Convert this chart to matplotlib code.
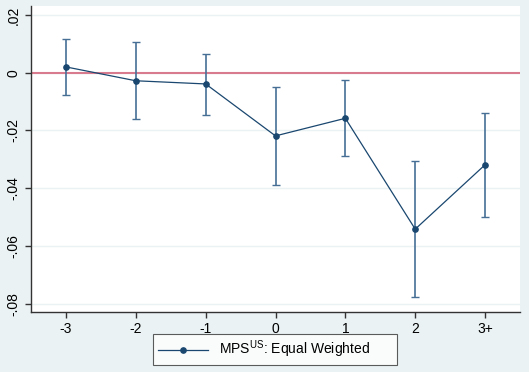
import numpy as np
import matplotlib.pyplot as plt

# event time, point estimate and 95% bands
periods = ['-3', '-2', '-1', '0', '1', '2', '3+']
coef = [0.0020, -0.0028, -0.0039, -0.0219, -0.0158, -0.0542, -0.0319]
ci_hi = [0.0118, 0.0107, 0.0066, -0.0051, -0.0024, -0.0307, -0.0139]
ci_lo = [-0.0078, -0.0162, -0.0147, -0.0388, -0.0290, -0.0777, -0.0500]
yticks = [0.02, 0, -0.02, -0.04, -0.06, -0.08]
ylabels = ['.02', '0', '-.02', '-.04', '-.06', '-.08']

plt.rcParams['font.family'] = ['Liberation Sans', 'DejaVu Sans']
plt.rcParams['mathtext.fontset'] = 'custom'
plt.rcParams['mathtext.rm'] = 'Liberation Sans'

bg = '#eaf2f3'
navy = '#1a476f'

fig = plt.figure(figsize=(5.29, 3.72), dpi=100, facecolor=bg)
ax = fig.add_axes([31/529, 1 - 312/372, (520 - 31)/529, (312 - 6)/372])
ax.set_facecolor('white')

x = np.arange(len(periods)) - 3
c = np.array(coef)
err = [c - np.array(ci_lo), np.array(ci_hi) - c]

for yt in yticks:
    ax.axhline(yt, color=bg, lw=1, zorder=0)
ax.axhline(0, color='#d97b8f', lw=1.5, zorder=1)

ax.errorbar(x, c, yerr=err, fmt='none', ecolor='#476f96', elinewidth=1.2,
            capsize=3, capthick=1, zorder=2)
ax.plot(x, c, color=navy, lw=0.9, marker='o', ms=3.8,
        label=r'MPS$^{\mathrm{US}}$: Equal Weighted', zorder=3)

ax.set_xlim(-3.5, 3.5)
ax.set_ylim(-0.0829, 0.0231)
ax.set_xticks(x)
ax.set_xticklabels(periods, fontsize=10)
ax.set_yticks(yticks)
ax.set_yticklabels(ylabels, fontsize=10, rotation=90, va='center')

for s in ['top', 'right']:
    ax.spines[s].set_visible(False)
for s in ['left', 'bottom']:
    ax.spines[s].set_color('#333333')
    ax.spines[s].set_linewidth(1)
ax.tick_params(direction='out', length=4, color='#333333', width=1)

# legend box spans about x 153..397, y 334..358 px
leg = ax.legend(loc='upper left', bbox_to_anchor=(122/489, -22/306, 244/489, 0),
                mode='expand', borderaxespad=0, fontsize=10,
                frameon=True, fancybox=False, edgecolor='#333333',
                handlelength=3.6, numpoints=1, borderpad=0.35)
leg.get_frame().set_linewidth(0.8)

fig.savefig('out.png', dpi=100, facecolor=bg)
